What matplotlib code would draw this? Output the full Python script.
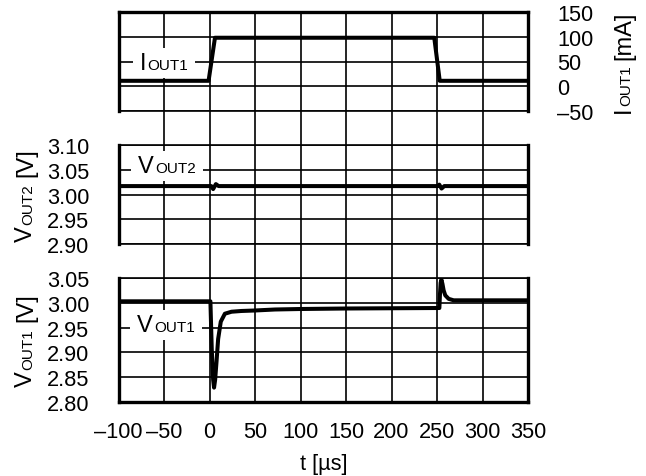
"""Load transient plot: IOUT1 step and the VOUT1 / VOUT2 response"""

import matplotlib
matplotlib.use('Agg')
import matplotlib.pyplot as plt
from matplotlib.patches import Rectangle
from matplotlib.transforms import IdentityTransform, Bbox

# time axis [us]
x_ticks = [-100, -50, 0, 50, 100, 150, 200, 250, 300, 350]
x_tick_labels = ['–100', '–50', '0', '50', '100', '150', '200', '250',
                 '300', '350']

# IOUT1 [mA]
t_iout1 = [-100, -1, 6, 247, 253, 350]
iout1 = [11, 11, 98, 98, 11, 11]
iout1_ticks = [-50, 0, 50, 100, 150]
iout1_tick_labels = ['–50', '0', '50', '100', '150']

# VOUT2 [V]
t_vout2 = [-100, 2, 4, 7, 10, 251, 252.5, 255, 258, 350]
vout2 = [3.017, 3.017, 3.011, 3.021, 3.017, 3.017, 3.020, 3.012, 3.017,
         3.017]
vout2_ticks = [2.90, 2.95, 3.00, 3.05, 3.10]
vout2_tick_labels = ['2.90', '2.95', '3.00', '3.05', '3.10']

# VOUT1 [V]
t_vout1 = [-100, 1.0, 2.5, 4.0, 5.0, 6.2, 7.7, 9.5, 12.4, 16.9, 24.2, 35,
           50, 72, 100, 150, 200, 252.6, 253.2, 254.0, 254.8, 256.0, 257.3,
           259.1, 262.8, 268.3, 350]
vout1 = [3.003, 3.003, 2.905, 2.845, 2.829, 2.845, 2.881, 2.927, 2.962,
         2.978, 2.982, 2.9835, 2.9845, 2.9865, 2.9875, 2.9885, 2.989,
         2.9895, 3.015, 3.040, 3.047, 3.038, 3.025, 3.015, 3.008, 3.005,
         3.005]
vout1_ticks = [2.80, 2.85, 2.90, 2.95, 3.00, 3.05]
vout1_tick_labels = ['2.80', '2.85', '2.90', '2.95', '3.00', '3.05']

W, H = 646, 477
TICK_SIZE, BIG, SMALL = 15.7, 17, 11
GRID_LW, SPINE_LW, TRACE_LW = 1.2, 2.4, 2.9
LEFT, RIGHT = 118.5, 528

plt.rcParams['font.family'] = ['Liberation Sans', 'DejaVu Sans']
plt.rcParams['font.size'] = TICK_SIZE

fig = plt.figure(figsize=(W / 100, H / 100), dpi=100)
renderer = fig.canvas.get_renderer()
PIX = IdentityTransform()


def rect(left, top, right, bottom):
    """figure fraction box from pixel edges (y counted from the top)"""
    return [left / W, 1 - bottom / H, (right - left) / W, (bottom - top) / H]


def panel(top, bottom, ticks, labels, thin, right=False):
    """one stacked panel with horizontal grid"""
    ax = fig.add_axes(rect(LEFT, top, RIGHT, bottom))
    ax.patch.set_visible(False)
    ax.set_xlim(x_ticks[0], x_ticks[-1])
    ax.set_ylim(ticks[0], ticks[-1])
    ax.set_xticks(x_ticks)
    ax.set_yticks(ticks)
    ax.set_yticklabels(labels)
    if right:
        ax.yaxis.tick_right()
    ax.set_axisbelow(True)
    ax.grid(axis='y', color='black', lw=GRID_LW)
    ax.tick_params(length=0, pad=21, labelbottom=False)
    for name, spine in ax.spines.items():
        spine.set_linewidth(GRID_LW if name in thin else SPINE_LW)
    return ax


def compound(parts, x, y, rotation=0, center=False):
    """writes text parts on one baseline, e.g. V + small OUT2"""
    texts, lengths = [], []
    for text, size, gap in parts:
        txt = fig.text(0, 0, text, fontsize=size, transform=PIX, ha='left',
                       va='baseline', rotation_mode='anchor', zorder=3)
        lengths.append(txt.get_window_extent(renderer).width)
        texts.append(txt)
    total = sum(lengths) + sum(p[2] for p in parts)
    pos = -total / 2 if center else 0
    for txt, part, length in zip(texts, parts, lengths):
        pos += part[2]
        if rotation:
            txt.set_position((x, H - y + pos))
        else:
            txt.set_position((x + pos, H - y))
        txt.set_rotation(rotation)
        pos += length
    return texts


def boxed(parts, x, y, padx=7, pady=4):
    """in-panel trace label on a white box that cuts the grid"""
    texts = compound(parts, x, y)
    box = Bbox.union([t.get_window_extent(renderer) for t in texts])
    fig.add_artist(Rectangle((box.x0 - padx, box.y0 - pady),
                             box.width + 2 * padx, box.height + 2 * pady,
                             transform=PIX, facecolor='white',
                             edgecolor='none', zorder=2.5))


# vertical grid runs through all three panels and the gaps
bg = fig.add_axes(rect(LEFT, 13, RIGHT, 403))
bg.set_xlim(x_ticks[0], x_ticks[-1])
bg.set_xticks(x_ticks[1:-1])
bg.set_yticks([])
bg.tick_params(length=0, labelbottom=False)
bg.grid(axis='x', color='black', lw=GRID_LW)
bg.patch.set_visible(False)
for spine in bg.spines.values():
    spine.set_visible(False)

ax_i = panel(13, 112, iout1_ticks, iout1_tick_labels, ['bottom'], right=True)
ax_i.plot(t_iout1, iout1, color='black', lw=TRACE_LW)

ax_v2 = panel(146, 245, vout2_ticks, vout2_tick_labels, ['top', 'bottom'])
ax_v2.plot(t_vout2, vout2, color='black', lw=TRACE_LW)

ax_v1 = panel(279, 403, vout1_ticks, vout1_tick_labels, ['top'])
ax_v1.plot(t_vout1, vout1, color='black', lw=TRACE_LW)
ax_v1.tick_params(labelbottom=True, pad=13.7)
ax_v1.set_xticklabels(x_tick_labels)
ax_v1.tick_params(axis='y', pad=21)
ax_v1.set_xlabel('t [µs]', labelpad=8.2)

# trace labels inside the panels
boxed([('I', BIG, 0), ('OUT1', SMALL, 1)], 140, 70)
boxed([('V', BIG, 0), ('OUT2', SMALL, 1.5)], 138.3, 173)
boxed([('V', BIG, 0), ('OUT1', SMALL, 1.5)], 136.7, 332)

# axis titles
compound([('V', BIG, 0), ('OUT2', SMALL, 1.5), ('[V]', BIG, 7)],
         32, 195, rotation=90, center=True)
compound([('V', BIG, 0), ('OUT1', SMALL, 1.5), ('[V]', BIG, 7)],
         32, 340, rotation=90, center=True)
compound([('I', BIG, 0), ('OUT1', SMALL, 0), ('[mA]', BIG, 6)],
         630, 62, rotation=90, center=True)

fig.savefig('out.png', dpi=100)
